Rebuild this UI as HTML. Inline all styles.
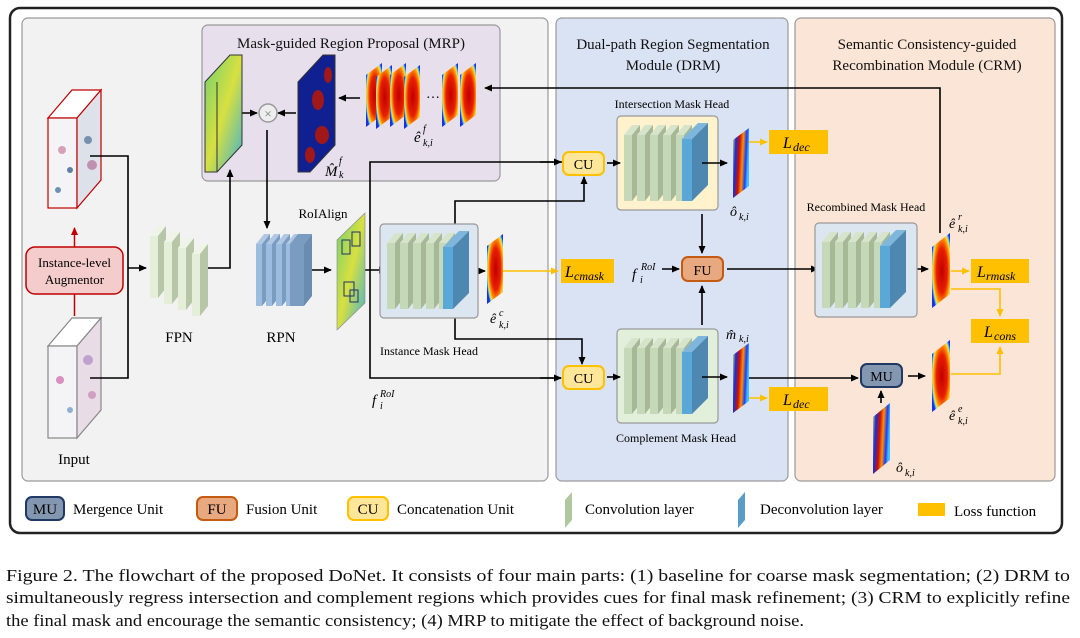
<!DOCTYPE html>
<html><head><meta charset="utf-8"><style>
html,body{margin:0;padding:0;background:#fff;}
svg{display:block;font-family:"Liberation Serif",serif;}
.i{font-style:italic;}
</style></head><body>
<svg width="1080" height="638" viewBox="0 0 1080 638" xmlns="http://www.w3.org/2000/svg">
<defs>
<marker id="a" markerWidth="8" markerHeight="8" refX="7" refY="4" orient="auto" markerUnits="userSpaceOnUse"><path d="M0,0.5 L8,4 L0,7.5 Z" fill="#000"/></marker>
<marker id="y" markerWidth="8" markerHeight="8" refX="7" refY="4" orient="auto" markerUnits="userSpaceOnUse"><path d="M0,0.5 L8,4 L0,7.5 Z" fill="#ffc000"/></marker>
<marker id="r" markerWidth="8" markerHeight="8" refX="7" refY="4" orient="auto" markerUnits="userSpaceOnUse"><path d="M0,0.5 L8,4 L0,7.5 Z" fill="#c00000"/></marker>
<radialGradient id="hm" cx="0.55" cy="0.5" r="0.6"><stop offset="0" stop-color="#c00000"/><stop offset="0.5" stop-color="#e82000"/><stop offset="0.72" stop-color="#ff9000"/><stop offset="0.85" stop-color="#ffe040"/><stop offset="0.93" stop-color="#40c0ff"/><stop offset="1" stop-color="#1a30e0"/></radialGradient>
<linearGradient id="hm2" x1="0" y1="0" x2="1" y2="0.2"><stop offset="0" stop-color="#ffe040"/><stop offset="0.2" stop-color="#1030e0"/><stop offset="0.45" stop-color="#d01000"/><stop offset="0.65" stop-color="#ff9000"/><stop offset="0.85" stop-color="#1a3cff"/><stop offset="1" stop-color="#40c0ff"/></linearGradient>
<linearGradient id="fm" x1="0" y1="0" x2="1" y2="1"><stop offset="0" stop-color="#70d070"/><stop offset="0.5" stop-color="#d8e040"/><stop offset="1" stop-color="#40b0d0"/></linearGradient>
<g id="conv"><polygon points="0,10 8,0 16,0 8,10" fill="#d6e4cc"/><rect x="0" y="10" width="8" height="66" fill="#c5d8b8"/><polygon points="8,10 16,0 16,66 8,76" fill="#a6b896"/></g>
<g id="deconv"><polygon points="0,16 16,0 26,0 10,16" fill="#7fb6dc"/><rect x="0" y="16" width="10" height="62" fill="#5aa8d8"/><polygon points="10,16 26,0 26,62 10,78" fill="#4e88b0"/></g>
<g id="hmap"><polygon points="0,12 16,0 16,58 0,70" fill="url(#hm)"/></g>
<g id="hmapb"><polygon points="0,12 16,0 16,58 0,70" fill="url(#hm2)"/></g>
<g id="rpn"><polygon points="0,10 8,0 14,0 6,10" fill="#b0c8e4"/><rect x="0" y="10" width="6" height="62" fill="#9cbde0"/><polygon points="6,10 14,0 14,62 6,72" fill="#7a9cc0"/></g>
<g id="fpn"><polygon points="0,10 8,0 16,0 8,10" fill="#eef4e6"/><rect x="0" y="10" width="8" height="62" fill="#e4eed8"/><polygon points="8,10 16,0 16,62 8,72" fill="#b8c6a8"/></g>
</defs>

<rect x="10" y="8" width="1052" height="525" rx="10" fill="#fff" stroke="#222" stroke-width="2.5"/>
<rect x="22" y="18" width="526" height="463" rx="6" fill="#f2f2f2" stroke="#9a9a9a" stroke-width="1.2"/>
<rect x="556" y="18" width="232" height="463" rx="6" fill="#dae3f3" stroke="#9a9a9a" stroke-width="1.2"/>
<rect x="795" y="18" width="260" height="463" rx="6" fill="#fbe5d6" stroke="#9a9a9a" stroke-width="1.2"/>
<rect x="202" y="25" width="298" height="156" rx="6" fill="#e7e0ec" stroke="#999" stroke-width="1.2"/>

<g font-size="15" text-anchor="middle" fill="#111">
<text x="351" y="48">Mask-guided Region Proposal (MRP)</text>
<text x="673" y="49">Dual-path Region Segmentation</text>
<text x="673" y="70">Module (DRM)</text>
<text x="927" y="49">Semantic Consistency-guided</text>
<text x="927" y="70">Recombination Module (CRM)</text>
</g>

<g>
<polygon points="48,118 72,90 101,90 77,118" fill="#fff" stroke="#c00000" stroke-width="1.2"/>
<rect x="48" y="118" width="29" height="90" fill="#f4f4f6" stroke="#c00000" stroke-width="1.2"/>
<polygon points="77,118 101,90 101,180 77,208" fill="#dde2ea" stroke="#c00000" stroke-width="1.2"/>
<circle cx="62" cy="150" r="4" fill="#d8a0b8"/><circle cx="88" cy="140" r="4" fill="#7890b0"/><circle cx="70" cy="170" r="3" fill="#6080a0"/><circle cx="92" cy="165" r="5" fill="#c090b0"/><circle cx="58" cy="190" r="3" fill="#7090b0"/>
<polygon points="48,346 72,318 101,318 77,346" fill="#fff" stroke="#888" stroke-width="1.2"/>
<rect x="48" y="346" width="29" height="92" fill="#f4f4f6" stroke="#888" stroke-width="1.2"/>
<polygon points="77,346 101,318 101,410 77,438" fill="#e8dce6" stroke="#888" stroke-width="1.2"/>
<circle cx="60" cy="380" r="4" fill="#d890c0"/><circle cx="88" cy="360" r="5" fill="#c0a0d0"/><circle cx="70" cy="410" r="3" fill="#90b0d0"/><circle cx="92" cy="395" r="4" fill="#d0a0c0"/>
</g>
<text x="74" y="464" font-size="15" text-anchor="middle">Input</text>
<rect x="26" y="247" width="97" height="47" rx="9" fill="#f4cccc" stroke="#c00000" stroke-width="1.5"/>
<text x="74.5" y="267" font-size="13" text-anchor="middle">Instance-level</text>
<text x="74.5" y="284" font-size="13" text-anchor="middle">Augmentor</text>
<line x1="74.5" y1="316" x2="74.5" y2="294" stroke="#c00000" stroke-width="1.5"/>
<line x1="74.5" y1="247" x2="74.5" y2="228" stroke="#c00000" stroke-width="1.5" marker-end="url(#r)"/>

<g stroke="#000" stroke-width="1.6" fill="none">
<polyline points="90,156 128,156 128,378 90,378"/>
<line x1="128" y1="268" x2="146" y2="268" marker-end="url(#a)"/>
<polyline points="208,268 230,268 230,170" marker-end="url(#a)"/>
<line x1="267" y1="130" x2="267" y2="228" marker-end="url(#a)"/>
<line x1="306" y1="270" x2="331" y2="270" marker-end="url(#a)"/>
<line x1="362" y1="270" x2="386" y2="270" marker-end="url(#a)"/>
<polyline points="562,162 370,162 370,378 561,378" />
<line x1="540" y1="162" x2="561" y2="162" marker-end="url(#a)"/>
<line x1="540" y1="378" x2="561" y2="378" marker-end="url(#a)"/>
<polyline points="455,224 455,201 584,201 584,177" marker-end="url(#a)"/>
<polyline points="455,318 455,339 582,339 582,364" marker-end="url(#a)"/>
<polyline points="940,233 940,88 485,88" marker-end="url(#a)"/>
<line x1="360" y1="98" x2="339" y2="98" marker-end="url(#a)"/>
<line x1="296" y1="113" x2="278" y2="113" marker-end="url(#a)"/>
<line x1="230" y1="113" x2="257" y2="113" marker-end="url(#a)"/>
<line x1="463" y1="271" x2="485" y2="271" marker-end="url(#a)"/>
</g>

<use href="#fpn" x="150" y="226"/><use href="#fpn" x="164" y="232"/><use href="#fpn" x="178" y="238"/><use href="#fpn" x="192" y="244"/>
<text x="179" y="342" font-size="15" text-anchor="middle">FPN</text>
<use href="#rpn" x="256" y="234"/><use href="#rpn" x="266" y="234"/><use href="#rpn" x="276" y="234"/><use href="#rpn" x="286" y="234"/>
<polygon points="290,244 298,234 312,234 304,244" fill="#7a9cc0"/>
<rect x="290" y="244" width="14" height="62" fill="#7a9cc0"/><polygon points="304,244 312,234 312,296 304,306" fill="#6a8cb0"/>
<text x="281" y="342" font-size="15" text-anchor="middle">RPN</text>
<text x="323" y="218" font-size="13" text-anchor="middle">RoIAlign</text>
<polygon points="337,240 365,213 365,303 337,330" fill="url(#fm)" stroke="#888" stroke-width="0.6"/>
<g fill="none" stroke="#203070" stroke-width="1"><rect x="342" y="240" width="8" height="14"/><rect x="352" y="232" width="8" height="14"/><rect x="344" y="282" width="10" height="14"/><rect x="350" y="290" width="8" height="12"/></g>

<polygon points="205,82 230,55 242,55 242,145 217,172 205,172" fill="url(#fm)" stroke="#333" stroke-width="1"/>
<line x1="217" y1="82" x2="217" y2="172" stroke="#333"/>
<circle cx="268" cy="113" r="9" fill="#eee" stroke="#999" stroke-width="1.5"/>
<text x="268" y="118" font-size="13" text-anchor="middle" fill="#777">×</text>
<polygon points="298,82 323,55 335,55 335,145 310,172 298,172" fill="#102090" stroke="#333" stroke-width="1"/>
<ellipse cx="318" cy="100" rx="6" ry="10" fill="#a01818"/><ellipse cx="322" cy="135" rx="7" ry="9" fill="#a01818"/><ellipse cx="310" cy="155" rx="5" ry="8" fill="#a01818"/><ellipse cx="328" cy="75" rx="4" ry="8" fill="#a01818"/>
<polygon points="366,75 382,63 382,115 366,127" fill="url(#hm)"/>
<polygon points="376,77 392,65 392,117 376,129" fill="url(#hm)"/>
<polygon points="390,75 406,63 406,115 390,127" fill="url(#hm)"/>
<polygon points="404,77 420,65 420,117 404,129" fill="url(#hm)"/>
<text x="426" y="98" font-size="14">…</text>
<polygon points="442,75 458,63 458,115 442,127" fill="url(#hm)"/>
<polygon points="460,75 476,63 476,115 460,127" fill="url(#hm)"/>
<text x="414" y="142" font-size="15" class="i">ê</text><text x="423" y="132" font-size="10" class="i">f</text><text x="423" y="146" font-size="10" class="i">k,i</text>
<text x="325" y="176" font-size="15" class="i">M̂</text><text x="339" y="164" font-size="10" class="i">f</text><text x="339" y="178" font-size="10" class="i">k</text>

<rect x="380" y="224" width="98" height="94" rx="4" fill="#dce6f0" stroke="#999" stroke-width="1.2"/>
<use href="#conv" x="387" y="233"/><use href="#conv" x="400" y="233"/><use href="#conv" x="413" y="233"/><use href="#conv" x="426" y="233"/><use href="#conv" x="439" y="233"/>
<use href="#deconv" x="443" y="231"/>
<use href="#hmap" x="487" y="234"/>
<text x="490" y="323" font-size="14" class="i">ê</text><text x="499" y="316" font-size="10" class="i">c</text><text x="499" y="328" font-size="10" class="i">k,i</text>
<text x="429" y="355" font-size="12" text-anchor="middle">Instance Mask Head</text>
<text x="372" y="405" font-size="15" class="i">f</text><text x="380" y="397" font-size="10" class="i">RoI</text><text x="380" y="409" font-size="10" class="i">i</text>
<line x1="503" y1="271" x2="558" y2="271" stroke="#ffc000" stroke-width="1.6" marker-end="url(#y)"/>

<text x="672" y="108" font-size="12" text-anchor="middle">Intersection Mask Head</text>
<rect x="617" y="116" width="101" height="94" rx="4" fill="#fff2cc" stroke="#999" stroke-width="1.2"/>
<use href="#conv" x="624" y="125"/><use href="#conv" x="637" y="125"/><use href="#conv" x="650" y="125"/><use href="#conv" x="663" y="125"/><use href="#conv" x="676" y="125"/>
<use href="#deconv" x="682" y="123"/>
<use href="#hmapb" x="733" y="128"/>
<text x="730" y="216" font-size="14" class="i">ô</text><text x="739" y="220" font-size="10" class="i">k,i</text>
<rect x="617" y="329" width="101" height="94" rx="4" fill="#e2efda" stroke="#999" stroke-width="1.2"/>
<use href="#conv" x="624" y="338"/><use href="#conv" x="637" y="338"/><use href="#conv" x="650" y="338"/><use href="#conv" x="663" y="338"/><use href="#conv" x="676" y="338"/>
<use href="#deconv" x="682" y="336"/>
<use href="#hmapb" x="733" y="343"/>
<text x="726" y="339" font-size="14" class="i">m̂</text><text x="739" y="342" font-size="10" class="i">k,i</text>
<text x="676" y="442" font-size="12" text-anchor="middle">Complement Mask Head</text>
<rect x="563" y="152" width="41" height="23" rx="6" fill="#ffe699" stroke="#ffc000" stroke-width="2"/>
<text x="583.5" y="169" font-size="14" text-anchor="middle">CU</text>
<rect x="563" y="366" width="41" height="23" rx="6" fill="#ffe699" stroke="#ffc000" stroke-width="2"/>
<text x="583.5" y="383" font-size="14" text-anchor="middle">CU</text>
<rect x="682" y="257" width="41" height="24" rx="6" fill="#e8a880" stroke="#c55a11" stroke-width="2"/>
<text x="702.5" y="275" font-size="14" text-anchor="middle">FU</text>
<text x="632" y="279" font-size="15" class="i">f</text><text x="641" y="270" font-size="10" class="i">RoI</text><text x="640" y="283" font-size="10" class="i">i</text>
<g stroke="#000" stroke-width="1.6" fill="none">
<line x1="607" y1="163" x2="620" y2="163" marker-end="url(#a)"/>
<line x1="607" y1="377" x2="620" y2="377" marker-end="url(#a)"/>
<line x1="702" y1="163" x2="727" y2="163" marker-end="url(#a)"/>
<line x1="702" y1="377" x2="727" y2="377" marker-end="url(#a)"/>
<line x1="702" y1="214" x2="702" y2="253" marker-end="url(#a)"/>
<line x1="702" y1="325" x2="702" y2="286" marker-end="url(#a)"/>
<line x1="662" y1="269" x2="679" y2="269" marker-end="url(#a)"/>
<line x1="727" y1="269" x2="818" y2="269" marker-end="url(#a)"/>
<line x1="749" y1="378" x2="858" y2="378" marker-end="url(#a)"/>
<line x1="906" y1="269" x2="928" y2="269" marker-end="url(#a)"/>
<line x1="908" y1="376" x2="925" y2="376" marker-end="url(#a)"/>
<line x1="881" y1="403" x2="881" y2="391" marker-end="url(#a)"/>
</g>
<g stroke="#ffc000" stroke-width="1.6" fill="none">
<line x1="749" y1="142" x2="767" y2="142" marker-end="url(#y)"/>
<line x1="749" y1="398" x2="767" y2="398" marker-end="url(#y)"/>
<line x1="951" y1="271" x2="969" y2="271" marker-end="url(#y)"/>
<polyline points="951,289 1000,289 1000,316" marker-end="url(#y)"/>
<polyline points="951,374 1000,374 1000,347" marker-end="url(#y)"/>
</g>
<g font-size="16" class="i">
<rect x="769" y="130" width="59" height="24" fill="#ffc000"/><text x="783" y="148">L</text><text x="793" y="151" font-size="12">dec</text>
<rect x="769" y="387" width="59" height="24" fill="#ffc000"/><text x="783" y="405">L</text><text x="793" y="408" font-size="12">dec</text>
<rect x="561" y="259" width="53" height="24" fill="#ffc000"/><text x="565" y="277">L</text><text x="574" y="280" font-size="12">cmask</text>
<rect x="971" y="259" width="58" height="24" fill="#ffc000"/><text x="977" y="277">L</text><text x="986" y="280" font-size="12">rmask</text>
<rect x="971" y="319" width="58" height="24" fill="#ffc000"/><text x="984" y="337">L</text><text x="994" y="340" font-size="12">cons</text>
</g>

<text x="866" y="211" font-size="12" text-anchor="middle">Recombined Mask Head</text>
<rect x="815" y="223" width="102" height="94" rx="4" fill="#dce6f0" stroke="#999" stroke-width="1.2"/>
<use href="#conv" x="822" y="232"/><use href="#conv" x="835" y="232"/><use href="#conv" x="848" y="232"/><use href="#conv" x="861" y="232"/><use href="#conv" x="874" y="232"/>
<use href="#deconv" x="880" y="230"/>
<polygon points="932,247 950,233 950,294 932,308" fill="url(#hm)"/>
<text x="949" y="228" font-size="14" class="i">ê</text><text x="958" y="220" font-size="10" class="i">r</text><text x="958" y="232" font-size="10" class="i">k,i</text>
<rect x="861" y="364" width="41" height="23" rx="6" fill="#8497b0" stroke="#203864" stroke-width="2"/>
<text x="881.5" y="381" font-size="14" text-anchor="middle">MU</text>
<polygon points="932,354 950,340 950,398 932,412" fill="url(#hm)"/>
<text x="949" y="420" font-size="14" class="i">ê</text><text x="958" y="412" font-size="10" class="i">e</text><text x="958" y="424" font-size="10" class="i">k,i</text>
<polygon points="873,417 890,403 890,460 873,474" fill="url(#hm2)"/>
<text x="896" y="472" font-size="14" class="i">ô</text><text x="905" y="476" font-size="10" class="i">k,i</text>

<g font-size="15">
<rect x="26" y="497" width="38" height="23" rx="6" fill="#8497b0" stroke="#203864" stroke-width="2"/><text x="45" y="514" text-anchor="middle">MU</text>
<text x="73" y="514">Mergence Unit</text>
<rect x="197" y="497" width="40" height="23" rx="6" fill="#e8a880" stroke="#c55a11" stroke-width="2"/><text x="217" y="514" text-anchor="middle">FU</text>
<text x="246" y="514">Fusion Unit</text>
<rect x="348" y="497" width="40" height="23" rx="6" fill="#ffe699" stroke="#ffc000" stroke-width="2"/><text x="368" y="514" text-anchor="middle">CU</text>
<text x="397" y="514">Concatenation Unit</text>
<polygon points="565,500 572,492 572,520 565,528" fill="#b0c8a0"/>
<text x="585" y="514">Convolution layer</text>
<polygon points="738,500 745,492 745,520 738,528" fill="#5a9cc8"/>
<text x="760" y="514">Deconvolution layer</text>
<rect x="918" y="503" width="27" height="13" fill="#ffc000"/>
<text x="954" y="516">Loss function</text>
</g>

<g font-size="16.5" fill="#111">
<text x="6" y="581" textLength="1064" lengthAdjust="spacingAndGlyphs">Figure 2.  The flowchart of the proposed DoNet.  It consists of four main parts: (1) baseline for coarse mask segmentation; (2) DRM to</text>
<text x="6" y="603" textLength="1064" lengthAdjust="spacingAndGlyphs">simultaneously regress intersection and complement regions which provides cues for final mask refinement; (3) CRM to explicitly refine</text>
<text x="6" y="626" textLength="798" lengthAdjust="spacingAndGlyphs">the final mask and encourage the semantic consistency; (4) MRP to mitigate the effect of background noise.</text>
</g>
</svg>
</body></html>
